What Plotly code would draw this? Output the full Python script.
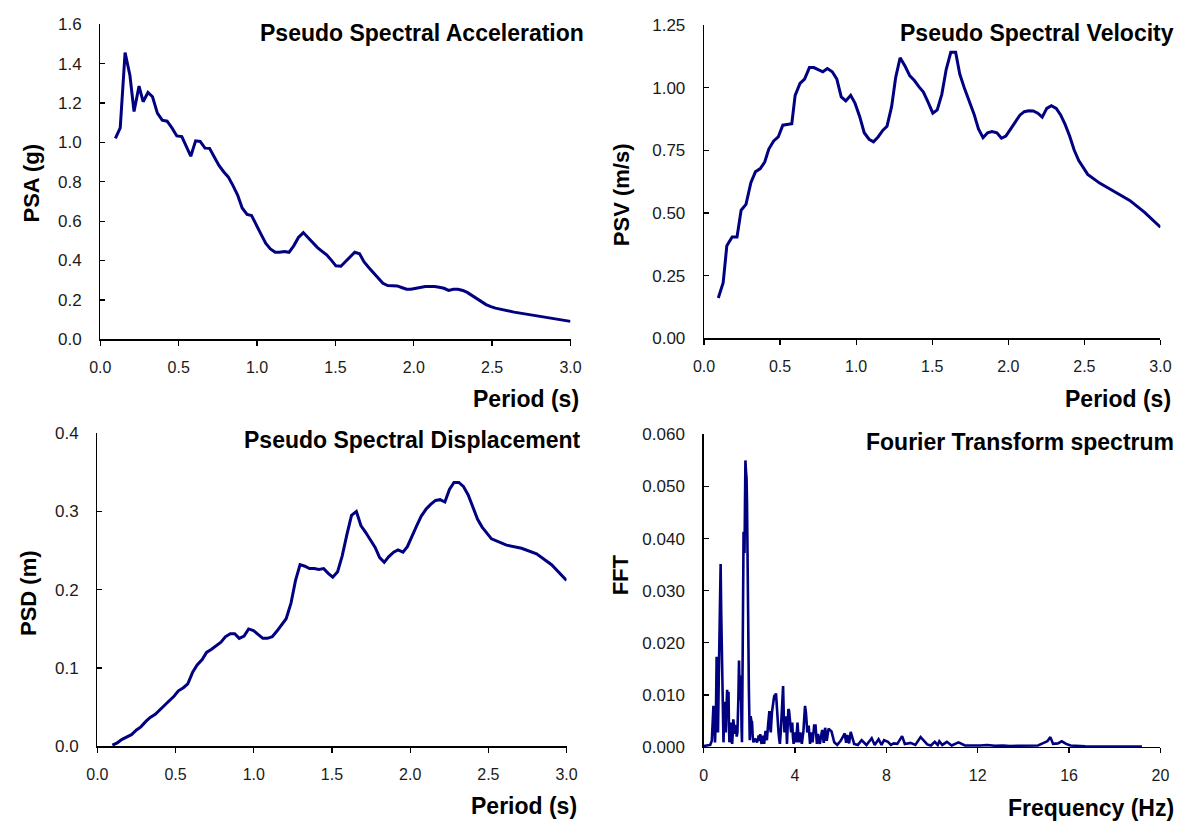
import plotly.graph_objects as go

# ---------------- DATA ----------------
period_psa = [0.096, 0.127, 0.158, 0.189, 0.215, 0.247, 0.273, 0.304, 0.333, 0.364, 0.395, 0.426,
              0.457, 0.488, 0.52, 0.548, 0.577, 0.608, 0.637, 0.668, 0.697, 0.728, 0.757, 0.788,
              0.816, 0.845, 0.876, 0.905, 0.936, 0.965, 0.996, 1.025, 1.056, 1.085, 1.116, 1.144,
              1.175, 1.204, 1.235, 1.264, 1.295, 1.324, 1.355, 1.384, 1.415, 1.444, 1.475, 1.503,
              1.535, 1.563, 1.594, 1.623, 1.654, 1.683, 1.714, 1.743, 1.774, 1.803, 1.834, 1.863,
              1.894, 1.922, 1.954, 1.982, 2.013, 2.042, 2.073, 2.102, 2.133, 2.162, 2.193, 2.222,
              2.253, 2.282, 2.313, 2.341, 2.372, 2.401, 2.432, 2.461, 2.492, 2.521, 2.64, 2.784,
              2.904, 3.0]
psa = [1.021, 1.074, 1.457, 1.34, 1.157, 1.286, 1.207, 1.254, 1.232, 1.149, 1.113, 1.108,
       1.074, 1.033, 1.03, 0.983, 0.93, 1.008, 1.005, 0.971, 0.97, 0.925, 0.883, 0.85,
       0.825, 0.783, 0.733, 0.667, 0.634, 0.629, 0.584, 0.534, 0.487, 0.459, 0.442, 0.442,
       0.446, 0.442, 0.476, 0.517, 0.542, 0.517, 0.487, 0.467, 0.447, 0.429, 0.401, 0.373,
       0.371, 0.393, 0.421, 0.442, 0.434, 0.393, 0.363, 0.338, 0.309, 0.284, 0.273, 0.273,
       0.271, 0.263, 0.254, 0.254, 0.259, 0.264, 0.268, 0.268, 0.268, 0.264, 0.259, 0.248,
       0.254, 0.254, 0.248, 0.238, 0.223, 0.205, 0.19, 0.176, 0.166, 0.158, 0.138, 0.118,
       0.105, 0.091]

period_psv = [0.094, 0.126, 0.15, 0.185, 0.217, 0.244, 0.276, 0.308, 0.338, 0.37, 0.399, 0.426,
              0.458, 0.488, 0.518, 0.55, 0.577, 0.599, 0.631, 0.661, 0.693, 0.722, 0.752, 0.781,
              0.811, 0.843, 0.873, 0.902, 0.932, 0.964, 0.993, 1.023, 1.053, 1.085, 1.114, 1.144,
              1.176, 1.203, 1.233, 1.26, 1.289, 1.321, 1.353, 1.383, 1.412, 1.442, 1.472, 1.504,
              1.533, 1.563, 1.592, 1.622, 1.654, 1.681, 1.713, 1.745, 1.775, 1.804, 1.834, 1.864,
              1.893, 1.925, 1.955, 1.984, 2.014, 2.044, 2.076, 2.105, 2.135, 2.164, 2.194, 2.223,
              2.253, 2.283, 2.315, 2.344, 2.374, 2.403, 2.433, 2.463, 2.492, 2.522, 2.6, 2.699,
              2.798, 2.896, 3.0]
psv = [0.161, 0.222, 0.369, 0.404, 0.404, 0.511, 0.534, 0.621, 0.664, 0.677, 0.703, 0.755,
       0.787, 0.803, 0.85, 0.852, 0.856, 0.969, 1.017, 1.034, 1.08, 1.08, 1.071, 1.063,
       1.076, 1.063, 1.034, 0.963, 0.947, 0.969, 0.937, 0.885, 0.82, 0.794, 0.784, 0.803,
       0.83, 0.846, 0.924, 1.041, 1.119, 1.086, 1.047, 1.028, 1.004, 0.982, 0.943, 0.898,
       0.911, 0.973, 1.073, 1.141, 1.141, 1.054, 0.995, 0.943, 0.894, 0.835, 0.8, 0.82,
       0.825, 0.82, 0.798, 0.807, 0.835, 0.865, 0.89, 0.904, 0.908, 0.907, 0.898, 0.882,
       0.917, 0.928, 0.917, 0.891, 0.852, 0.807, 0.751, 0.709, 0.68, 0.654, 0.619, 0.586,
       0.55, 0.502, 0.443]

period_psd = [0.096, 0.127, 0.158, 0.19, 0.218, 0.25, 0.278, 0.31, 0.338, 0.37, 0.398, 0.43,
              0.458, 0.49, 0.518, 0.55, 0.578, 0.61, 0.638, 0.67, 0.698, 0.73, 0.758, 0.79,
              0.818, 0.85, 0.878, 0.907, 0.938, 0.967, 0.998, 1.027, 1.058, 1.087, 1.118, 1.147,
              1.178, 1.207, 1.238, 1.267, 1.296, 1.327, 1.356, 1.387, 1.416, 1.447, 1.476, 1.505,
              1.536, 1.565, 1.596, 1.625, 1.656, 1.685, 1.716, 1.745, 1.776, 1.805, 1.834, 1.862,
              1.894, 1.922, 1.954, 1.982, 2.014, 2.042, 2.071, 2.102, 2.131, 2.162, 2.191, 2.222,
              2.251, 2.28, 2.311, 2.34, 2.371, 2.4, 2.431, 2.46, 2.491, 2.52, 2.616, 2.712,
              2.808, 2.904, 3.0]
psd = [0.0017, 0.0046, 0.0091, 0.012, 0.015, 0.021, 0.025, 0.032, 0.037, 0.041, 0.046, 0.052,
       0.058, 0.064, 0.071, 0.075, 0.08, 0.095, 0.104, 0.111, 0.12, 0.124, 0.128, 0.133,
       0.14, 0.144, 0.144, 0.138, 0.141, 0.15, 0.148, 0.143, 0.138, 0.138, 0.14, 0.147,
       0.155, 0.163, 0.183, 0.212, 0.232, 0.23, 0.227, 0.227, 0.226, 0.227, 0.221, 0.216,
       0.223, 0.243, 0.271, 0.295, 0.3, 0.282, 0.273, 0.264, 0.254, 0.241, 0.235, 0.242,
       0.248, 0.251, 0.248, 0.255, 0.27, 0.282, 0.294, 0.303, 0.309, 0.314, 0.315, 0.312,
       0.328, 0.337, 0.337, 0.332, 0.321, 0.306, 0.29, 0.28, 0.272, 0.265, 0.257, 0.253,
       0.246, 0.232, 0.212]

freq_fft = [0.0, 0.15, 0.29, 0.36, 0.43, 0.47, 0.5, 0.54, 0.57, 0.6, 0.63, 0.66, 0.69, 0.72,
            0.745, 0.77, 0.79, 0.81, 0.83, 0.85, 0.87, 0.9, 0.93, 0.95, 0.97, 1.0, 1.03, 1.06,
            1.09, 1.11, 1.13, 1.16, 1.19, 1.22, 1.25, 1.28, 1.3, 1.33, 1.36, 1.39, 1.42, 1.45,
            1.48, 1.52, 1.55, 1.57, 1.59, 1.61, 1.63, 1.66, 1.68, 1.7, 1.72, 1.735, 1.75, 1.77,
            1.79, 1.81, 1.83, 1.855, 1.88, 1.9, 1.92, 1.95, 1.98, 2.0, 2.02, 2.04, 2.06, 2.09,
            2.12, 2.15, 2.18, 2.21, 2.25, 2.3, 2.34, 2.38, 2.41, 2.45, 2.48, 2.51, 2.54, 2.59,
            2.65, 2.71, 2.77, 2.82, 2.85, 2.88, 2.91, 2.94, 2.99, 3.02, 3.05, 3.08, 3.11, 3.14,
            3.17, 3.2, 3.22, 3.25, 3.28, 3.31, 3.34, 3.38, 3.41, 3.45, 3.48, 3.51, 3.54, 3.57,
            3.6, 3.63, 3.65, 3.68, 3.71, 3.74, 3.77, 3.8, 3.83, 3.86, 3.88, 3.91, 3.94, 4.0,
            4.05, 4.11, 4.17, 4.23, 4.3, 4.37, 4.41, 4.44, 4.48, 4.54, 4.6, 4.66, 4.71, 4.77,
            4.84, 4.9, 4.96, 5.01, 5.09, 5.19, 5.26, 5.32, 5.39, 5.47, 5.6, 5.72, 5.85, 6.0,
            6.18, 6.24, 6.29, 6.37, 6.44, 6.59, 6.75, 6.92, 7.13, 7.36, 7.49, 7.66, 7.79, 7.9,
            8.07, 8.2, 8.32, 8.48, 8.69, 8.81, 9.06, 9.27, 9.5, 9.63, 9.79, 9.95, 10.12, 10.25,
            10.32, 10.45, 10.65, 10.86, 11.16, 11.44, 11.77, 12.1, 12.42, 12.75, 13.1, 13.41,
            13.74, 14.23, 14.64, 14.89, 15.05, 15.18, 15.3, 15.51, 15.68, 15.87, 16.07, 16.7,
            17.52, 18.34, 19.19]
fft = [0.0002, 0.0003, 0.0004, 0.0012, 0.0079, 0.004, 0.0009, 0.006, 0.0173, 0.007, 0.0028,
       0.012, 0.0213, 0.029, 0.0351, 0.026, 0.0216, 0.017, 0.0141, 0.005, 0.0009, 0.005, 0.0087,
       0.004, 0.0028, 0.007, 0.011, 0.006, 0.0106, 0.004, 0.0009, 0.003, 0.0047, 0.002, 0.0006,
       0.003, 0.0053, 0.004, 0.0025, 0.004, 0.0041, 0.002, 0.0028, 0.009, 0.0166, 0.012, 0.009,
       0.012, 0.0137, 0.004, 0.0009, 0.012, 0.0247, 0.035, 0.0413, 0.039, 0.0372, 0.047, 0.055,
       0.053, 0.0516, 0.047, 0.0409, 0.0253, 0.0116, 0.005, 0.0013, 0.004, 0.0059, 0.005,
       0.0048, 0.002, 0.0009, 0.0012, 0.0016, 0.0012, 0.0009, 0.0015, 0.0022, 0.0012, 0.0025,
       0.0012, 0.0006, 0.0022, 0.0006, 0.0031, 0.0013, 0.0041, 0.0055, 0.0069, 0.004, 0.0028,
       0.0066, 0.008, 0.0091, 0.0095, 0.01, 0.0098, 0.0103, 0.008, 0.0053, 0.004, 0.0028, 0.0015,
       0.0006, 0.003, 0.0059, 0.009, 0.0117, 0.006, 0.0028, 0.004, 0.0059, 0.003, 0.0006, 0.004,
       0.0073, 0.007, 0.0059, 0.004, 0.0028, 0.004, 0.0047, 0.002, 0.0006, 0.0028, 0.0009,
       0.0047, 0.0009, 0.0028, 0.0006, 0.0031, 0.005, 0.0079, 0.0066, 0.0028, 0.0041, 0.0006,
       0.0028, 0.0009, 0.0041, 0.0041, 0.0006, 0.0025, 0.0006, 0.0033, 0.0008, 0.0037, 0.0012,
       0.0035, 0.003, 0.0009, 0.0004, 0.0012, 0.0026, 0.0008, 0.0023, 0.0007, 0.0029, 0.0006,
       0.0004, 0.0013, 0.0004, 0.0017, 0.0004, 0.0015, 0.0004, 0.0013, 0.001, 0.0004, 0.0007,
       0.0006, 0.0021, 0.0006, 0.0008, 0.0004, 0.0019, 0.0013, 0.0005, 0.0003, 0.001, 0.0004,
       0.0011, 0.0004, 0.001, 0.0003, 0.0009, 0.0003, 0.00025, 0.0003, 0.0004, 0.00025, 0.0003,
       0.0002, 0.00025, 0.0002, 0.0003, 0.0008, 0.0011, 0.0019, 0.0006, 0.0007, 0.0011, 0.0006,
       0.0003, 0.00012, 0.0001, 0.0001, 0.0001]

titles = ["Pseudo Spectral Acceleration", "Pseudo Spectral Velocity",
          "Pseudo Spectral Displacement", "Fourier Transform spectrum"]
x_titles = ["Period (s)", "Period (s)", "Period (s)", "Frequency (Hz)"]
y_titles = ["PSA (g)", "PSV (m/s)", "PSD (m)", "FFT"]

# ---------------- LAYOUT HELPERS ----------------
W, H = 1195, 831
LINE = "#000080"
FONT = "Arial, Liberation Sans, sans-serif"


def px(x):
    return x / W


def py(y):
    return 1 - y / H


# plot areas in pixels: (left, right, top, bottom)
areas = [(91, 570, 15.7, 338), (706, 1171, 16.3, 337),
         (88, 566, 434, 754.7), (705.6, 1171, 435.3, 755.3)]

fig = go.Figure()
series = [(period_psa, psa, 3), (period_psv, psv, 3), (period_psd, psd, 3), (freq_fft, fft, 2.6)]
for i, (xs, ys, w) in enumerate(series):
    sfx = "" if i == 0 else str(i + 1)
    fig.add_trace(go.Scatter(x=xs, y=ys, mode="lines", xaxis="x" + sfx, yaxis="y" + sfx,
                             line=dict(color=LINE, width=w), showlegend=False,
                             line_shape="linear"))

x_specs = [dict(range=[0, 3], dtick=0.5, tickformat=".1f"),
           dict(range=[0, 3], dtick=0.5, tickformat=".1f"),
           dict(range=[0, 3], dtick=0.5, tickformat=".1f"),
           dict(range=[0, 20], dtick=4, tickformat="d")]
y_specs = [dict(range=[0, 1.6], dtick=0.2, tickformat=".1f"),
           dict(range=[0, 1.25], dtick=0.25, tickformat=".2f"),
           dict(range=[0, 0.4], dtick=0.1, tickformat=".1f"),
           dict(range=[0, 0.06], dtick=0.01, tickformat=".3f")]

layout = dict(width=W, height=H, margin=dict(l=0, r=0, t=0, b=0),
              paper_bgcolor="white", plot_bgcolor="white",
              font=dict(family=FONT, color="#1a1a1a"))
for i, (l, r, t, b) in enumerate(areas):
    sfx = "" if i == 0 else str(i + 1)
    common = dict(showline=True, linecolor="black", linewidth=1.3, showgrid=False,
                  zeroline=False, tickcolor="black", tickwidth=1.3, ticklen=5,
                  fixedrange=True)
    layout["xaxis" + sfx] = dict(domain=[px(l), px(r)], anchor="y" + sfx, ticks="outside",
                                 ticklabelstandoff=8, tick0=0,
                                 tickfont=dict(family=FONT, size=16, color="#1a1a1a"),
                                 **x_specs[i], **common)
    layout["yaxis" + sfx] = dict(domain=[py(b), py(t)], anchor="x" + sfx, ticks="inside",
                                 ticklabelstandoff=14, tick0=0,
                                 tickfont=dict(family=FONT, size=17, color="#1a1a1a"),
                                 **y_specs[i], **common)
fig.update_layout(**layout)

# titles / axis titles as annotations
title_pos = [(586, 24.5), (1187, 24.5), (583, 441), (1187, 443)]
xt_pos = [(581, 399), (1184, 399), (579, 815.5), (1187, 818)]
yt_pos = [(21, 178), (622, 190), (18, 598), (621, 579)]
for i in range(4):
    fig.add_annotation(text="<b>%s</b>" % titles[i], x=px(title_pos[i][0]), y=py(title_pos[i][1]),
                       xref="paper", yref="paper", xanchor="right", yanchor="middle",
                       showarrow=False, font=dict(family=FONT, size=23, color="black"))
    fig.add_annotation(text="<b>%s</b>" % x_titles[i], x=px(xt_pos[i][0]), y=py(xt_pos[i][1]),
                       xref="paper", yref="paper", xanchor="right", yanchor="middle",
                       showarrow=False, font=dict(family=FONT, size=23, color="black"))
    fig.add_annotation(text="<b>%s</b>" % y_titles[i], x=px(yt_pos[i][0]), y=py(yt_pos[i][1]),
                       xref="paper", yref="paper", xanchor="center", yanchor="middle",
                       textangle=-90, showarrow=False,
                       font=dict(family=FONT, size=22, color="black"))

fig.write_html("out.html", config={"displayModeBar": False, "staticPlot": True},
               post_script="document.body.style.margin='0';document.body.style.overflow='hidden';")
